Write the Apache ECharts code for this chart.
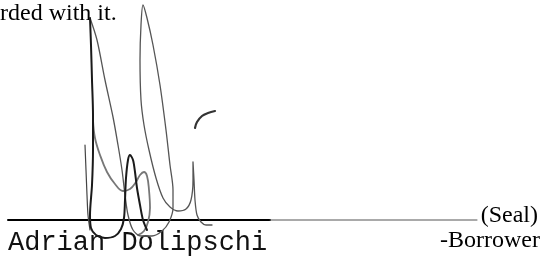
<!DOCTYPE html>
<html>
<head>
<meta charset="utf-8">
<script src="https://cdn.jsdelivr.net/npm/echarts@6/dist/echarts.min.js"></script>
<style>
  html, body { margin: 0; padding: 0; background: #fff; }
  #chart { width: 540px; height: 259px; }
</style>
</head>
<body>
<div id="chart"></div>
<script>
// signature strokes, in page units (x right, y down)
const strokeThin = [[85,145],[86,170],[87,195],[88,215],[90,230]];
const strokeMain = [[90,18],[91,45],[92,80],[93,115],[93,150],[92,185],[90,215],[91,228],[96,235],[105,238],[115,236],[121,229],[124,218],[125,200],[126,178],[128,160],[130,155],[133,160],[135,172],[137,188],[140,205],[143,220],[147,230]];
const strokeTall = [[90,18],[97,40],[105,80],[113,117],[118,145],[122,170],[125,195],[128,215],[133,230],[141,236],[152,236],[162,231],[169,222],[173,208],[173,190],[170,165],[166,130],[160,85],[153,45],[147,18],[143,5],[141,25],[140,60],[141,100],[144,125],[149,150],[156,178],[163,198],[170,207],[178,211],[186,209],[191,200],[193,180],[193,162],[194,180],[195,200],[197,215],[201,222],[206,225],[212,225]];
const strokeCurve = [[93,120],[95,138],[100,155],[107,172],[115,184],[123,191],[130,189],[136,182],[140,175],[144,172],[147,176],[149,190],[150,208],[148,222],[144,231],[138,235]];
const strokeHook = [[195,128],[197,122],[202,116],[208,113],[215,111]];
const ruleThick = [[8,220],[270,220]];
const ruleThin = [[270,220],[477,220]];

const texts = {
  top: 'rded with it.',
  seal: '(Seal)',
  borrower: '-Borrower',
  name: 'Adrian Dolipschi'
};

const chart = echarts.init(document.getElementById('chart'));

function stroke(data, color, width, smooth) {
  return {
    type: 'line',
    data: data,
    showSymbol: false,
    smooth: smooth,
    silent: true,
    animation: false,
    lineStyle: { color: color, width: width, cap: 'round', join: 'round' }
  };
}

chart.setOption({
  backgroundColor: '#fff',
  animation: false,
  grid: { left: 0, right: 0, top: 0, bottom: 0 },
  xAxis: { type: 'value', min: 0, max: 540, show: false },
  yAxis: { type: 'value', min: 0, max: 259, inverse: true, show: false },
  series: [
    stroke(ruleThick, '#000', 2, false),
    stroke(ruleThin, '#555', 1, false),
    stroke(strokeThin, '#444', 1.2, 0.3),
    stroke(strokeCurve, '#777', 1.8, 0.4),
    stroke(strokeTall, '#555', 1.3, 0.3),
    stroke(strokeMain, '#1a1a1a', 2, 0.3),
    stroke(strokeHook, '#333', 2.2, 0.4)
  ],
  graphic: [
    { type: 'text', left: 0, top: 2, style: { text: texts.top, font: '24px "Liberation Serif"', fill: '#000' } },
    { type: 'text', right: 2, top: 204, style: { text: texts.seal, font: '24px "Liberation Serif"', fill: '#000' } },
    { type: 'text', right: 0, top: 229, style: { text: texts.borrower, font: '24px "Liberation Serif"', fill: '#000' } },
    { type: 'text', left: 8, top: 229, style: { text: texts.name, font: '27px "Liberation Mono"', fill: '#111' } }
  ]
});
</script>
</body>
</html>
